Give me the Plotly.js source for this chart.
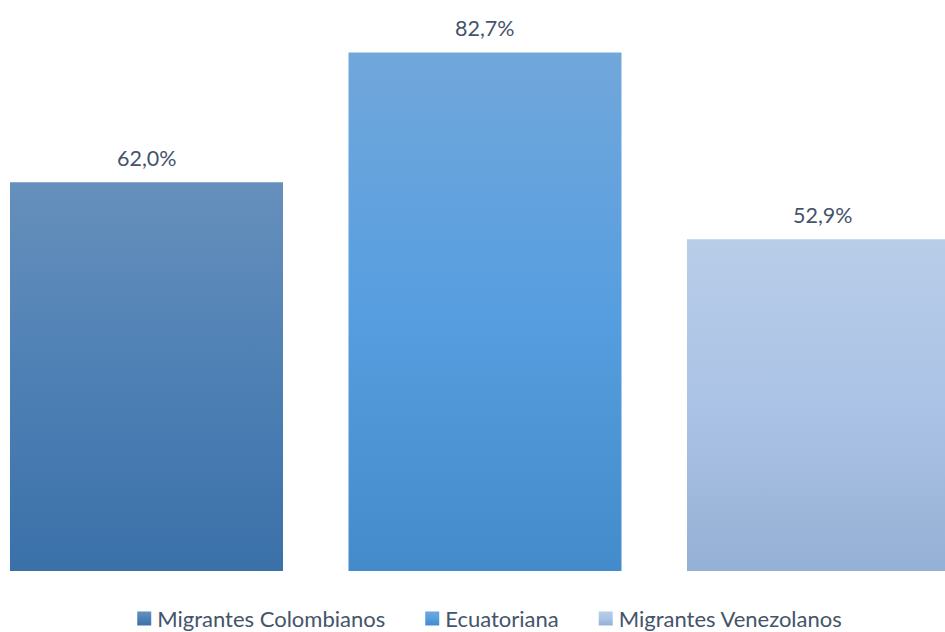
<!DOCTYPE html>
<html>
<head>
<meta charset="utf-8">
<script src="https://cdn.plot.ly/plotly-3.0.1.min.js"></script>
<style>html,body{margin:0;padding:0;background:#fff;}#chart{width:945px;height:632px;}</style>
</head>
<body>
<div id="chart"></div>
<script>
var categories = ['Migrantes Colombianos', 'Ecuatoriana', 'Migrantes Venezolanos'];
var values = [62.0, 82.7, 52.9];
var positions = [0, 1, 2];
var baseColors = ['#4f81b4', '#5a9bdc', '#a9c1e3'];
var gradients = [
  ['#6690bc', '#4e80b5', '#3a71a8'],
  ['#71a7db', '#579ee0', '#448bcb'],
  ['#b8cde8', '#abc3e6', '#95b0d5']
];

function fmt(v) { return v.toFixed(1).replace('.', ',') + '%'; }

var FONT = 'Lato, "Open Sans", sans-serif';
var TXT = '#44546a';

var traces = categories.map(function (c, i) {
  return {
    type: 'bar',
    name: c,
    x: [positions[i]],
    y: [values[i]],
    width: 0.8065,
    marker: { color: baseColors[i], line: { width: 0 } },
    hoverinfo: 'none'
  };
});

var annotations = categories.map(function (c, i) {
  return {
    x: positions[i], y: values[i], xref: 'x', yref: 'y',
    text: fmt(values[i]), showarrow: false,
    yanchor: 'bottom', yshift: 9,
    font: { family: FONT, size: 21.5, color: TXT }
  };
});

var layout = {
  width: 945, height: 632,
  margin: { l: 0, r: 0, t: 0, b: 61, autoexpand: false },
  paper_bgcolor: '#ffffff', plot_bgcolor: '#ffffff',
  barmode: 'overlay',
  showlegend: true,
  legend: {
    orientation: 'h', x: 0.5, xanchor: 'center', y: -0.0835, yanchor: 'middle',
    font: { family: FONT, size: 22, color: TXT },
    itemclick: false, itemdoubleclick: false
  },
  xaxis: { range: [-0.4328, 2.359], showgrid: false, zeroline: false, showticklabels: false, showline: false, fixedrange: true },
  yaxis: { range: [0, 91.07], showgrid: false, zeroline: false, showticklabels: false, showline: false, fixedrange: true },
  annotations: annotations
};

function parseTranslate(el) {
  var t = el.getAttribute('transform') || '';
  var m = /translate\(\s*([-\d.e]+)[ ,]*([-\d.e]*)\s*\)/.exec(t);
  return m ? [parseFloat(m[1]), parseFloat(m[2] || 0)] : [0, 0];
}

Plotly.newPlot('chart', traces, layout, { displayModeBar: false, staticPlot: true }).then(function (gd) {
  var svg = gd.querySelector('svg.main-svg');
  var defs = svg.querySelector('defs');
  var ns = 'http://www.w3.org/2000/svg';
  gradients.forEach(function (g, i) {
    var lg = document.createElementNS(ns, 'linearGradient');
    lg.setAttribute('id', 'barGrad' + i);
    lg.setAttribute('x1', '0'); lg.setAttribute('y1', '0');
    lg.setAttribute('x2', '0'); lg.setAttribute('y2', '1');
    [0, 0.5, 1].forEach(function (o, k) {
      var s = document.createElementNS(ns, 'stop');
      s.setAttribute('offset', o);
      s.setAttribute('stop-color', g[k]);
      lg.appendChild(s);
    });
    defs.appendChild(lg);
  });
  gd.querySelectorAll('.barlayer .trace').forEach(function (tg, i) {
    tg.querySelectorAll('path').forEach(function (p) { p.style.fill = 'url(#barGrad' + i + ')'; });
  });

  // Legend: Excel-like compact layout (14px square, 6px gap, 40px between items)
  var legend = gd.querySelector('.legend');
  var lpos = parseTranslate(legend);
  var sb = legend.querySelector('.scrollbox');
  if (sb) sb.removeAttribute('clip-path');
  var bg = legend.querySelector('.bg');
  if (bg) bg.style.display = 'none';
  var items = Array.prototype.slice.call(legend.querySelectorAll('.traces'));
  var widths = items.map(function (it) { return it.querySelector('text').getComputedTextLength(); });
  var total = widths.reduce(function (a, w) { return a + 14 + 6 + w; }, 0) + 40 * (items.length - 1);
  var left = 489.5 - total / 2;
  items.forEach(function (it, i) {
    var tp = parseTranslate(it);
    it.querySelectorAll('.legendpoints path').forEach(function (p) {
      p.setAttribute('transform', 'translate(27,0) scale(1.1667)');
      p.style.fill = 'url(#barGrad' + i + ')';
    });
    var tx = left - lpos[0] - 20;
    it.setAttribute('transform', 'translate(' + tx + ',' + tp[1] + ')');
    left += 14 + 6 + widths[i] + 40;
  });
});
</script>
</body>
</html>
